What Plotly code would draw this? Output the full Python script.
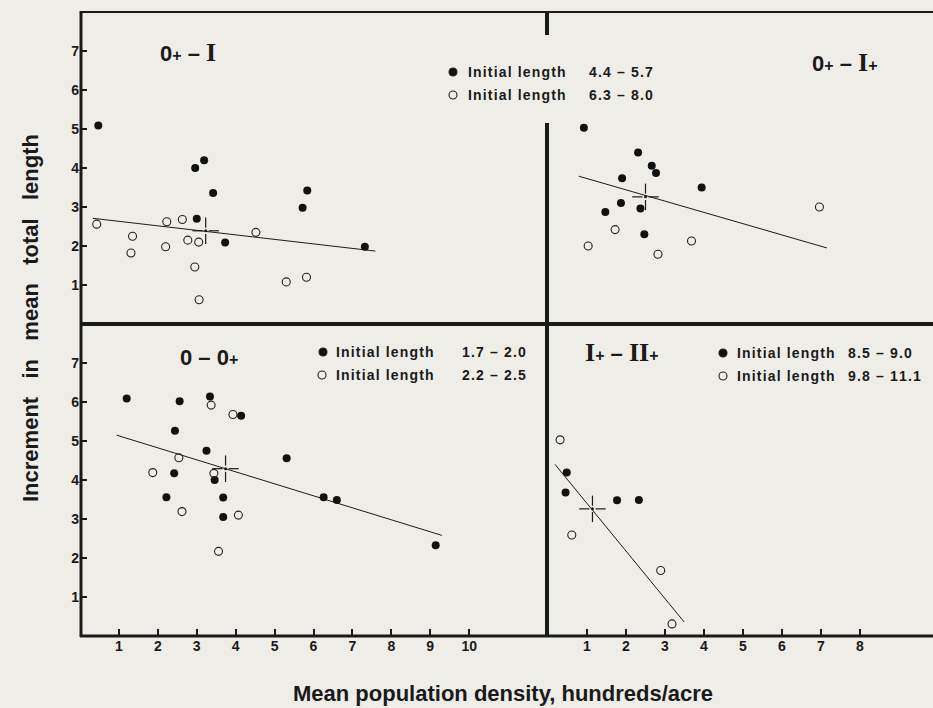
import plotly.graph_objects as go

W, H = 933, 708
BG = "#efede8"

# ---------------- data ----------------
# top-left panel: 0+ - I
tl_filled_x = [0.47, 2.96, 3.19, 3.42, 3.00, 3.73, 5.72, 5.84, 7.32]
tl_filled_y = [5.09, 4.00, 4.20, 3.36, 2.70, 2.09, 2.98, 3.42, 1.98]
tl_open_x = [0.43, 1.35, 1.31, 2.23, 2.63, 2.20, 2.77, 3.05, 2.95, 3.06, 4.52, 5.30, 5.82]
tl_open_y = [2.56, 2.25, 1.82, 2.62, 2.68, 1.98, 2.15, 2.10, 1.46, 0.62, 2.35, 1.08, 1.20]
tl_line_x = [0.33, 7.59]
tl_line_y = [2.71, 1.87]
tl_mean = (3.23, 2.39)

# top-right panel: 0+ - I+
tr_filled_x = [0.92, 2.31, 2.66, 2.77, 1.90, 3.94, 1.87, 2.37, 1.47, 2.47]
tr_filled_y = [5.03, 4.40, 4.06, 3.87, 3.74, 3.50, 3.10, 2.96, 2.87, 2.30]
tr_open_x = [1.72, 1.03, 2.82, 3.68, 6.96]
tr_open_y = [2.42, 2.00, 1.79, 2.13, 3.00]
tr_line_x = [0.79, 7.15]
tr_line_y = [3.79, 1.95]
tr_mean = (2.50, 3.26)

# bottom-left panel: 0 - 0+
bl_filled_x = [1.20, 2.56, 3.34, 4.14, 2.44, 3.25, 5.31, 2.42, 3.46, 2.22, 3.68, 3.68, 6.26, 6.60, 9.14]
bl_filled_y = [6.09, 6.02, 6.14, 5.65, 5.26, 4.75, 4.56, 4.17, 4.00, 3.56, 3.55, 3.05, 3.56, 3.49, 2.33]
bl_open_x = [3.37, 3.93, 2.54, 1.87, 3.44, 2.62, 4.07, 3.56]
bl_open_y = [5.92, 5.68, 4.57, 4.19, 4.17, 3.19, 3.10, 2.17]
bl_line_x = [0.94, 9.30]
bl_line_y = [5.15, 2.58]
bl_mean = (3.74, 4.29)

# bottom-right panel: I+ - II+
br_filled_x = [0.48, 0.45, 1.77, 2.33]
br_filled_y = [4.19, 3.68, 3.48, 3.49]
br_open_x = [0.31, 0.61, 2.89, 3.18]
br_open_y = [5.03, 2.59, 1.68, 0.31]
br_line_x = [0.18, 3.49]
br_line_y = [4.40, 0.36]
br_mean = (1.14, 3.26)

y_ticks = [1, 2, 3, 4, 5, 6, 7]
x_ticks_left = [1, 2, 3, 4, 5, 6, 7, 8, 9, 10]
x_ticks_right = [1, 2, 3, 4, 5, 6, 7, 8]

legend_label = "Initial length"
legend_top = ["4.4 – 5.7", "6.3 – 8.0"]
legend_bl = ["1.7 – 2.0", "2.2 – 2.5"]
legend_br = ["8.5 – 9.0", "9.8 – 11.1"]

# ---------------- helpers ----------------
def px(x):
    return x / W

def py(y):
    return 1 - y / H

def spaced(s):
    out = []
    for ch in s:
        if ch == " ":
            out.append("&nbsp;")
        else:
            out.append(ch)
    return "\u200a".join(out)

def cross(mx, my, arm=0.34, gap=0.08):
    xs = [mx - arm, mx - gap, None, mx + gap, mx + arm, None, mx, mx, None, mx, mx]
    ys = [my, my, None, my, my, None, my - arm, my - gap, None, my + gap, my + arm]
    return xs, ys

fig = go.Figure()

panels = [
    ("x", "y", tl_filled_x, tl_filled_y, tl_open_x, tl_open_y, tl_line_x, tl_line_y, tl_mean),
    ("x2", "y2", tr_filled_x, tr_filled_y, tr_open_x, tr_open_y, tr_line_x, tr_line_y, tr_mean),
    ("x3", "y3", bl_filled_x, bl_filled_y, bl_open_x, bl_open_y, bl_line_x, bl_line_y, bl_mean),
    ("x4", "y4", br_filled_x, br_filled_y, br_open_x, br_open_y, br_line_x, br_line_y, br_mean),
]

for xa, ya, fx, fy, ox, oy, lx, ly, mean in panels:
    fig.add_trace(go.Scatter(x=lx, y=ly, xaxis=xa, yaxis=ya, mode="lines",
                             line=dict(color="#1a1a1a", width=1), showlegend=False, hoverinfo="skip"))
    cx, cy = cross(*mean)
    fig.add_trace(go.Scatter(x=cx, y=cy, xaxis=xa, yaxis=ya, mode="lines",
                             line=dict(color="#1a1a1a", width=1.2), showlegend=False, hoverinfo="skip"))
    fig.add_trace(go.Scatter(x=[mean[0]], y=[mean[1]], xaxis=xa, yaxis=ya, mode="markers",
                             marker=dict(color="#1a1a1a", size=3), showlegend=False, hoverinfo="skip"))
    fig.add_trace(go.Scatter(x=fx, y=fy, xaxis=xa, yaxis=ya, mode="markers",
                             marker=dict(color="#111111", size=8, symbol="circle"), showlegend=False))
    fig.add_trace(go.Scatter(x=ox, y=oy, xaxis=xa, yaxis=ya, mode="markers",
                             marker=dict(color="#222222", size=8, symbol="circle-open",
                                         line=dict(width=1.1)), showlegend=False))

tickfont = dict(family="Liberation Sans Narrow, Liberation Sans, Arial", size=14, color="#1a1a1a", weight="bold")

common = dict(showgrid=False, zeroline=False, showline=False, fixedrange=True)

y_top_dom = [py(324), py(12)]
y_bot_dom = [py(636), py(324)]
x_left_dom = [px(80), px(547)]
x_right_dom = [px(548), 1.0]
x_right_max = (933 - 548) / 39.0

fig.update_layout(
    width=W, height=H,
    margin=dict(l=0, r=0, t=0, b=0),
    paper_bgcolor=BG, plot_bgcolor="rgba(0,0,0,0)",
    showlegend=False,
    xaxis=dict(domain=x_left_dom, range=[0, 12], anchor="y", showticklabels=False, ticks="", **common),
    yaxis=dict(domain=y_top_dom, range=[0, 8], anchor="x", tickvals=y_ticks, ticks="inside",
               ticklen=7, tickwidth=1.5, tickcolor="#1a1a1a", tickfont=tickfont, **common),
    xaxis2=dict(domain=x_right_dom, range=[0, x_right_max], anchor="y2", showticklabels=False, ticks="", **common),
    yaxis2=dict(domain=y_top_dom, range=[0, 8], anchor="x2", showticklabels=False, ticks="", **common),
    xaxis3=dict(domain=x_left_dom, range=[0, 12], anchor="y3", tickvals=x_ticks_left, ticks="inside",
                ticklen=7, tickwidth=1.5, tickcolor="#1a1a1a", tickfont=tickfont, **common),
    yaxis3=dict(domain=y_bot_dom, range=[0, 8], anchor="x3", tickvals=y_ticks, ticks="inside",
                ticklen=7, tickwidth=1.5, tickcolor="#1a1a1a", tickfont=tickfont, **common),
    xaxis4=dict(domain=x_right_dom, range=[0, x_right_max], anchor="y4", tickvals=x_ticks_right, ticks="inside",
                ticklen=7, tickwidth=1.5, tickcolor="#1a1a1a", tickfont=tickfont, **common),
    yaxis4=dict(domain=y_bot_dom, range=[0, 8], anchor="x4", showticklabels=False, ticks="", **common),
)

# ---------------- frame ----------------
def hline(y, x0, x1, w):
    fig.add_shape(type="line", xref="paper", yref="paper", x0=px(x0), x1=px(x1), y0=py(y), y1=py(y),
                  line=dict(color="#1a1a1a", width=w))

def vline(x, y0, y1, w):
    fig.add_shape(type="line", xref="paper", yref="paper", x0=px(x), x1=px(x), y0=py(y0), y1=py(y1),
                  line=dict(color="#1a1a1a", width=w))

hline(12, 80, 933, 2)
hline(324, 80, 933, 4)
hline(636, 80, 933, 3)
vline(81, 11, 637, 3)
vline(547, 12, 35, 4)
vline(547, 123, 636, 4)

# ---------------- legends ----------------
def legend_marker(cx, cy, filled):
    r = 4
    fig.add_shape(type="circle", xref="paper", yref="paper",
                  x0=px(cx - r), x1=px(cx + r), y0=py(cy + r), y1=py(cy - r),
                  fillcolor="#111111" if filled else BG,
                  line=dict(color="#222222", width=1.1))

legfont = dict(family="Liberation Sans, Arial", size=14, color="#1a1a1a", weight="bold")

def legend_row(mx, my, text_x, num_x, num_text, filled):
    legend_marker(mx, my, filled)
    fig.add_annotation(xref="paper", yref="paper", x=px(text_x), y=py(my), xanchor="left", yanchor="middle",
                       text=spaced(legend_label), showarrow=False, font=legfont)
    fig.add_annotation(xref="paper", yref="paper", x=px(num_x), y=py(my), xanchor="left", yanchor="middle",
                       text=spaced(num_text), showarrow=False, font=legfont)

legend_row(453, 72, 466, 587, legend_top[0], True)
legend_row(453, 95, 466, 587, legend_top[1], False)
legend_row(323, 352, 334, 460, legend_bl[0], True)
legend_row(322, 375, 334, 460, legend_bl[1], False)
legend_row(723, 353, 735, 846, legend_br[0], True)
legend_row(723, 376, 735, 846, legend_br[1], False)

# ---------------- panel titles ----------------
SERIF = "font-family:Liberation Serif"
PLUS = "<span style='font-size:16px'>+</span>"
def title(x, y, text):
    fig.add_annotation(xref="paper", yref="paper", x=px(x), y=py(y), xanchor="left", yanchor="middle",
                       text=text, showarrow=False,
                       font=dict(family="Liberation Sans, Arial", size=22, color="#1a1a1a", weight="bold"))

title(158, 53, f"0{PLUS} – <span style='{SERIF};font-size:26px'>I</span>")
title(810, 62, f"0{PLUS} – <span style='{SERIF};font-size:26px'>I</span>{PLUS}")
title(178, 358, f"0 – 0{PLUS}")
title(583, 353, f"<span style='{SERIF};font-size:26px'>I</span>{PLUS} – <span style='{SERIF};font-size:26px'>II</span>{PLUS}")

# ---------------- axis titles ----------------
fig.add_annotation(xref="paper", yref="paper", x=px(30), y=py(318), xanchor="center", yanchor="middle",
                   text="Increment&nbsp;&nbsp; in&nbsp;&nbsp; mean&nbsp;&nbsp; total&nbsp;&nbsp; length",
                   textangle=-90, showarrow=False,
                   font=dict(family="Liberation Sans, Arial", size=22, color="#1a1a1a", weight="bold"))
fig.add_annotation(xref="paper", yref="paper", x=px(503), y=py(693), xanchor="center", yanchor="middle",
                   text="Mean population density, hundreds/acre", showarrow=False,
                   font=dict(family="Liberation Sans, Arial", size=22, color="#1a1a1a", weight="bold"))

fig.write_html("out.html")
